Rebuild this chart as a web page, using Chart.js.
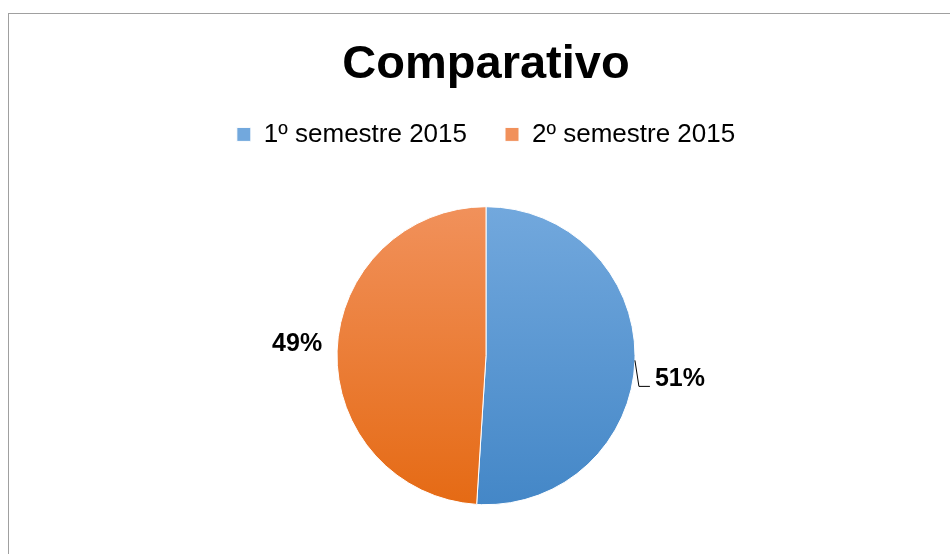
<!DOCTYPE html>
<html>
<head>
<meta charset="utf-8">
<script src="https://cdn.jsdelivr.net/npm/chart.js@4.4.0/dist/chart.umd.min.js"></script>
<style>
  html, body { margin: 0; padding: 0; background: #ffffff; }
  #wrap { position: relative; width: 950px; height: 554px; overflow: hidden; }
  #frame { position: absolute; left: 8px; top: 13px; width: 1200px; height: 1200px;
           border: 1px solid #a0a0a0; pointer-events: none; }
  canvas { position: absolute; left: 0; top: 0; }
</style>
</head>
<body>
<div id="wrap">
  <canvas id="c" width="950" height="554"></canvas>
  <div id="frame"></div>
</div>
<script>
const chartTitle = 'Comparativo';
const categories = ['1º semestre 2015', '2º semestre 2015'];
const values = [51, 49];
const percentLabels = ['51%', '49%'];

const gradStops = [
  ['#72a8dd', '#4487c7'],
  ['#f1915b', '#e56a14']
];

function fillFor(ctx) {
  const chart = ctx.chart;
  const area = chart.chartArea;
  const i = ctx.dataIndex;
  if (!area) return gradStops[i][1];
  const meta = chart.getDatasetMeta(0);
  const arc = meta.data[i];
  let cy = (area.top + area.bottom) / 2, r = 149;
  if (arc && arc.outerRadius) { cy = arc.y; r = arc.outerRadius; }
  const g = chart.ctx.createLinearGradient(0, cy - r, 0, cy + r);
  g.addColorStop(0, gradStops[i][0]);
  g.addColorStop(1, gradStops[i][1]);
  return g;
}

const labelPlugin = {
  id: 'pctLabels',
  afterDatasetsDraw(chart, args, opts) {
    const ctx = chart.ctx;
    const meta = chart.getDatasetMeta(0);
    ctx.save();
    ctx.font = 'bold 25px "Liberation Sans", Arial, sans-serif';
    ctx.fillStyle = '#000';
    ctx.textBaseline = 'middle';
    meta.data.forEach((arc, i) => {
      const mid = (arc.startAngle + arc.endAngle) / 2;
      const dx = Math.cos(mid), dy = Math.sin(mid);
      const r = arc.outerRadius;
      const off = opts.offsets[i];
      if (opts.leader[i]) {
        const sx = arc.x + dx * r, sy = arc.y + dy * r;
        const left = sx + 20;
        const ty = sy + off;
        ctx.textAlign = 'left';
        ctx.fillText(percentLabels[i], left, ty);
        ctx.strokeStyle = '#000';
        ctx.lineWidth = 1;
        ctx.beginPath();
        ctx.moveTo(sx, sy);
        ctx.lineTo(sx + 4, ty + 7);
        ctx.lineTo(left - 5, ty + 7);
        ctx.stroke();
      } else {
        const cx = arc.x + dx * (r + 40);
        const cy = arc.y + dy * (r + 40) + off;
        ctx.textAlign = 'center';
        ctx.fillText(percentLabels[i], cx, cy);
      }
    });
    ctx.restore();
  }
};

new Chart(document.getElementById('c'), {
  type: 'pie',
  data: {
    labels: categories,
    datasets: [{
      data: values,
      backgroundColor: fillFor,
      borderColor: '#ffffff',
      borderWidth: 1
    }]
  },
  plugins: [labelPlugin],
  options: {
    responsive: false,
    animation: false,
    radius: 149,
    layout: { padding: { left: 22, right: 0, top: 37, bottom: 0 } },
    plugins: {
      title: {
        display: true,
        text: chartTitle,
        color: '#000',
        font: { family: '"Liberation Sans", Arial, sans-serif', size: 47, weight: 'bold' },
        padding: { top: 0, bottom: -10 }
      },
      legend: {
        position: 'top',
        labels: {
          color: '#000',
          font: { family: '"Liberation Sans", Arial, sans-serif', size: 26 },
          boxWidth: 14,
          boxHeight: 14,
          padding: 38
        }
      },
      tooltip: { enabled: false },
      pctLabels: { offsets: [19, -6], leader: [true, false] }
    }
  }
});
</script>
</body>
</html>
